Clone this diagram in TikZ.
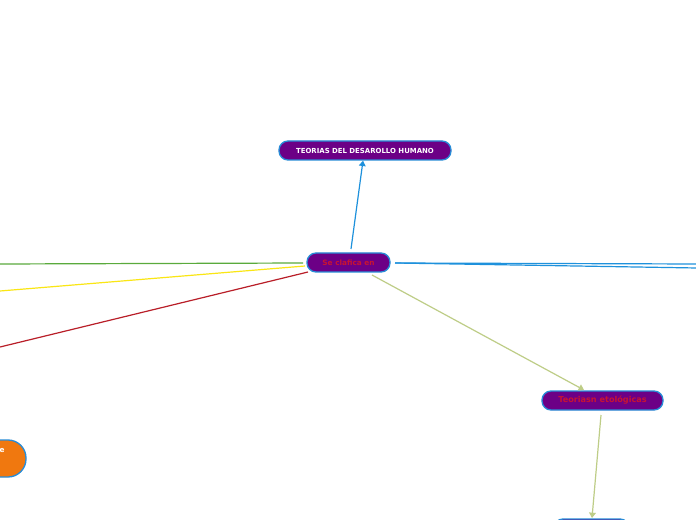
\documentclass[tikz,border=0pt]{standalone}
\usepackage{fontspec}
\setmainfont{DejaVu Sans}
\usetikzlibrary{arrows.meta}
\definecolor{nodepurple}{RGB}{108,0,134}
\definecolor{nodeborder}{RGB}{40,140,215}
\definecolor{txtred}{RGB}{200,20,50}
\definecolor{lnblue}{RGB}{30,145,220}
\definecolor{lngreen}{RGB}{90,170,60}
\definecolor{lnyellow}{RGB}{250,230,20}
\definecolor{lnred}{RGB}{185,30,40}
\definecolor{lnolive}{RGB}{190,205,135}
\definecolor{nodeorange}{RGB}{240,120,15}
\tikzset{
  topic/.style={draw=nodeborder, line width=1pt, fill=nodepurple, rounded corners=9*0.75pt,
    minimum height=19*0.75pt, inner sep=0pt, font=\bfseries},
  conn/.style={line width=0.9pt},
  arr/.style={-{Triangle[width=5pt,length=4pt]}},
}
\begin{document}
\begin{tikzpicture}[x=0.75pt,y=-0.75pt]
\useasboundingbox (0,0) rectangle (696,520);
\clip (0,0) rectangle (696,520);
\fill[white] (0,0) rectangle (696,520);
% nodes
\node[topic, minimum width=172*0.75pt, text=white, font=\bfseries\fontsize{5.2}{6}\selectfont] (top) at (365,150.5) {TEORIAS DEL DESAROLLO HUMANO};
\node[topic, minimum width=83*0.75pt, text=txtred, font=\bfseries\fontsize{5.5}{6.5}\selectfont] (center) at (348.5,262.5) {Se clafica en};
\node[topic, minimum width=121*0.75pt, text=txtred, font=\bfseries\fontsize{6.1}{7.2}\selectfont] (eto) at (602.5,400.5) {Teoriasn etológicas};
\node[draw=nodeborder, line width=1pt, fill=nodeorange, rounded corners=18*0.75pt, minimum width=90*0.75pt, minimum height=37*0.75pt, inner sep=0pt] (orange) at (-19,458.5) {};
\node[text=white, font=\bfseries\fontsize{5.5}{6}\selectfont, inner sep=0pt] (otext) at (2,450) {e};
\node[draw=nodeborder, line width=1pt, fill=nodepurple, rounded corners=9*0.75pt, minimum width=75*0.75pt, minimum height=19*0.75pt, inner sep=0pt] (bottom) at (591.5,528.5) {};
% free ends
\coordinate (gL) at (0,264);
\coordinate (yL) at (0,291);
\coordinate (rL) at (0,347);
\coordinate (bR1) at (697,264);
\coordinate (bR2) at (697,268);
% connectors
\draw[conn, lnblue, arr] (351,249) -- (top.south -| 363,0);
\draw[conn, lngreen] (303,263) -- (gL);
\draw[conn, lnyellow] (305,266) -- (yL);
\draw[conn, lnred] (308,272) -- (rL);
\draw[conn, lnblue] (395,263) -- (bR1);
\draw[conn, lnblue] (395,263) -- (bR2);
\draw[conn, lnolive, arr] (372,275) -- (584,390);
\draw[conn, lnolive, arr] (601,415) -- (592,518);
\end{tikzpicture}
\end{document}
